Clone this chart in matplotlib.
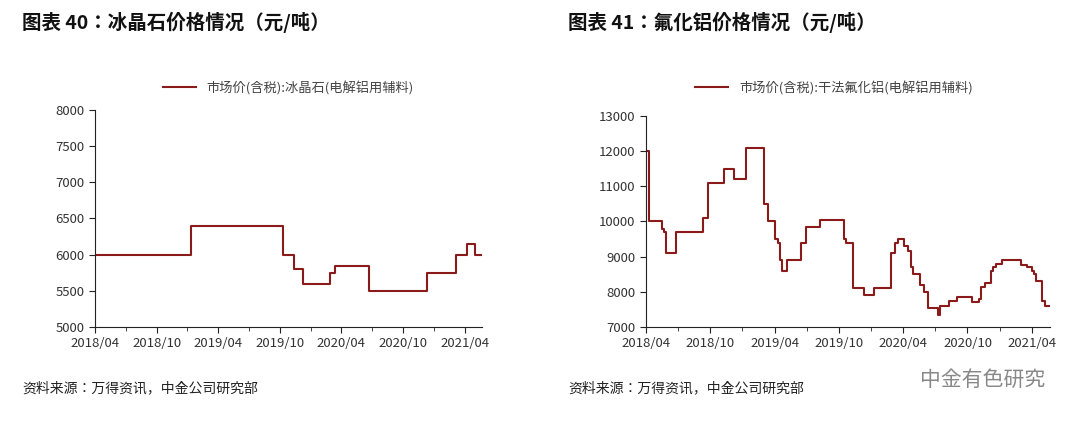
import matplotlib
matplotlib.use("Agg")
import matplotlib.pyplot as plt
from matplotlib import font_manager

names = {f.name for f in font_manager.fontManager.ttflist}
cjk = [n for n in ["Noto Sans CJK SC", "Noto Sans CJK JP", "Noto Sans SC", "Noto Sans CJK TC"] if n in names]
plt.rcParams["font.family"] = "sans-serif"
plt.rcParams["font.sans-serif"] = cjk + ["DejaVu Sans"]

# months since 2018/04 at which each price level starts
cryo_t = [0, 9.4, 18.3, 19.4, 20.3, 22.9, 23.4, 26.7, 32.3, 35.2, 36.2, 37.0, 37.75]
cryo_v = [6000, 6400, 6000, 5800, 5600, 5750, 5850, 5500, 5750, 6000, 6150, 6000, 6000]

alf_t = [0, 0.28, 1.5, 1.7, 1.9, 2.8, 5.3, 5.8, 7.3, 8.2, 9.3, 11.0, 11.4, 12.0, 12.35, 12.5,
         12.7, 13.2, 14.5, 14.9, 16.2, 18.5, 18.65, 19.3, 20.3, 21.3, 22.9, 23.2, 23.5, 24.05,
         24.45, 24.7, 24.9, 25.6, 25.9, 26.3, 27.25, 27.4, 28.3, 29.05, 30.4, 31.1, 31.3, 31.6,
         32.15, 32.4, 32.7, 33.2, 35.0, 35.6, 36.0, 36.2, 36.4, 36.95, 37.2, 37.65]
alf_v = [12000, 10000, 9800, 9700, 9100, 9700, 10100, 11100, 11500, 11200, 12100, 10500, 10000,
         9500, 9400, 8900, 8600, 8900, 9400, 9850, 10050, 9500, 9400, 8100, 7900, 8100, 9100,
         9400, 9500, 9300, 9150, 8700, 8500, 8200, 8000, 7550, 7350, 7600, 7750, 7850, 7700,
         7800, 8150, 8250, 8600, 8700, 8800, 8900, 8750, 8700, 8600, 8500, 8300, 7750, 7600, 7600]

xtick_labels = ["2018/04", "2018/10", "2019/04", "2019/10", "2020/04", "2020/10", "2021/04"]

W, H = 1080, 428
fig = plt.figure(figsize=(W/100, H/100), dpi=100)
color = "#8B1A1A"

def make(ax_px, t, v, ylim, yt, legend, leg_x):
    x0, x1, ytop, ybot = ax_px
    ax = fig.add_axes([x0/W, 1-ybot/H, (x1-x0)/W, (ybot-ytop)/H])
    ax.step(t, v, where="post", color=color, lw=1.5, label=legend)
    ax.set_xlim(0, 37.7)
    ax.set_ylim(*ylim)
    ax.set_yticks(yt)
    ax.set_xticks(range(0, 37, 6))
    ax.set_xticklabels(xtick_labels)
    ax.set_xticks(range(0, 37, 3), minor=True)
    for s in ["top", "right"]:
        ax.spines[s].set_visible(False)
    for s in ["left", "bottom"]:
        ax.spines[s].set_color("#222222")
    ax.tick_params(axis="both", which="both", direction="out", labelsize=9.5, color="#222222", labelcolor="#333333")
    ax.tick_params(axis="x", which="major", length=4)
    ax.tick_params(axis="x", which="minor", length=3)
    ax.tick_params(axis="y", length=4)
    ax.legend(loc="center", bbox_to_anchor=(leg_x/W, 1-88/H), bbox_transform=fig.transFigure,
              frameon=False, fontsize=9.5, handlelength=2.5, labelcolor="#444444")
    return ax

make((95, 482, 110, 327), cryo_t, cryo_v, (5000, 8000), range(5000, 8001, 500),
     "市场价(含税):冰晶石(电解铝用辅料)", 288)
make((646, 1050, 116, 327), alf_t, alf_v, (7000, 13000), range(7000, 13001, 1000),
     "市场价(含税):干法氟化铝(电解铝用辅料)", 834)

fig.text(22/W, 1-22/H, "图表 40：冰晶石价格情况（元/吨）", fontsize=14, fontweight="bold", va="center", color="#111111")
fig.text(568/W, 1-22/H, "图表 41：氟化铝价格情况（元/吨）", fontsize=14, fontweight="bold", va="center", color="#111111")
fig.text(22/W, 1-388/H, "资料来源：万得资讯，中金公司研究部", fontsize=10, va="center", color="#222222")
fig.text(568/W, 1-388/H, "资料来源：万得资讯，中金公司研究部", fontsize=10, va="center", color="#222222")
fig.text(1045/W, 1-380/H, "中金有色研究", fontsize=15, va="center", ha="right", color="#888888")

fig.savefig("out.png", dpi=100, facecolor="white")
